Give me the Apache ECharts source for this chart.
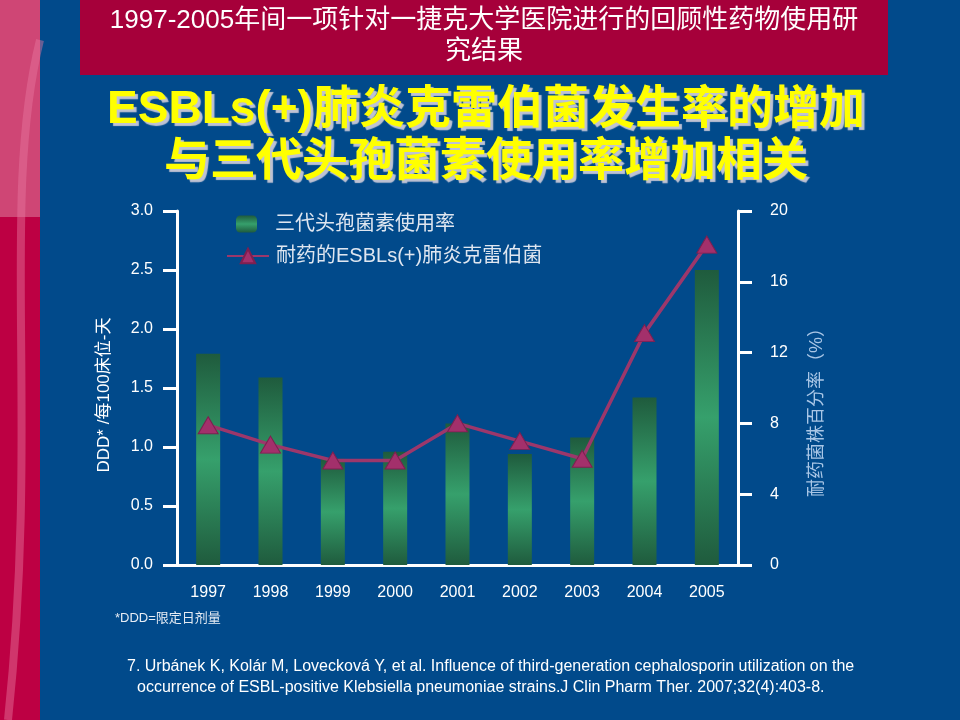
<!DOCTYPE html>
<html><head><meta charset="utf-8">
<script src="https://cdn.jsdelivr.net/npm/echarts/dist/echarts.min.js"></script>
<style>html,body{margin:0;padding:0;background:#014a8b}#c{width:960px;height:720px}</style>
</head><body><div id="c"></div>
<script>
const years = ['1997','1998','1999','2000','2001','2002','2003','2004','2005'];
const dddValues = [1.79, 1.59, 0.90, 0.96, 1.20, 0.94, 1.08, 1.42, 2.50];
const esblPercent = [7.9, 6.8, 5.9, 5.9, 8.0, 7.0, 6.0, 13.1, 18.1];
const barName = '三代头孢菌素使用率';
const lineName = '耐药的ESBLs(+)肺炎克雷伯菌';
const headerLines = ['1997-2005年间一项针对一捷克大学医院进行的回顾性药物使用研', '究结果'];
const titleLines = ['ESBLs(+)肺炎克雷伯菌发生率的增加', '与三代头孢菌素使用率增加相关'];
const leftAxisName = 'DDD* /每100床位-天';
const rightAxisName = '耐药菌株百分率（%）';
const footnote = '*DDD=限定日剂量';
const refLines = ['7. Urbánek K, Kolár M, Lovecková Y, et al. Influence of third-generation cephalosporin utilization on the',
                  'occurrence of ESBL-positive Klebsiella pneumoniae strains.J Clin Pharm Ther. 2007;32(4):403-8.'];

const chart = echarts.init(document.getElementById('c'));
const FONT = 'Liberation Sans, Noto Sans CJK SC';
const barGrad = {type:'linear', x:0, y:0, x2:0, y2:1, colorStops:[
  {offset:0,color:'#1f5b3d'},{offset:0.5,color:'#36a06c'},{offset:1,color:'#1f5b3d'}]};
const titleStyle = {fill:'#ffff00', fontSize:46, fontWeight:'bold', fontFamily:FONT,
  textAlign:'center', textVerticalAlign:'middle', textShadowColor:'rgba(200,200,215,0.95)',
  textShadowOffsetX:3, textShadowOffsetY:3, textShadowBlur:1};
chart.setOption({
  backgroundColor:'#014a8b',
  textStyle:{fontFamily:FONT},
  graphic:[
    {type:'rect', shape:{x:0,y:0,width:40,height:720}, style:{fill:'#bd0043'}, z:-10},
    {type:'rect', shape:{x:0,y:0,width:40,height:217}, style:{fill:'#cf4675'}, z:-9},
    {type:'bezierCurve', shape:{x1:40,y1:40,cpx1:0,cpy1:200,cpx2:40,cpy2:420,x2:8,y2:720}, style:{stroke:'rgba(230,120,160,0.45)', lineWidth:8, fill:null}, z:-8},
    {type:'rect', shape:{x:80,y:0,width:808,height:75}, style:{fill:'#a6003a'}, z:-5},
    {type:'text', x:484, y:21, style:{text:headerLines[0], fill:'#ffffff', fontSize:26, fontFamily:FONT, textAlign:'center', textVerticalAlign:'middle'}},
    {type:'text', x:484, y:52, style:{text:headerLines[1], fill:'#ffffff', fontSize:26, fontFamily:FONT, textAlign:'center', textVerticalAlign:'middle'}},
    {type:'text', x:486, y:110, style:Object.assign({text:titleLines[0]}, titleStyle)},
    {type:'text', x:486, y:162, style:Object.assign({text:titleLines[1]}, titleStyle)},
    {type:'text', x:115, y:618, style:{text:footnote, fill:'#e6ecf4', fontSize:13, fontFamily:FONT, textVerticalAlign:'middle'}},
    {type:'text', x:127, y:667, style:{text:refLines[0], fill:'#ffffff', fontSize:16, fontFamily:FONT, textVerticalAlign:'middle'}},
    {type:'text', x:137, y:688, style:{text:refLines[1], fill:'#ffffff', fontSize:16, fontFamily:FONT, textVerticalAlign:'middle'}}
  ],
  legend:[
    {data:[barName], left:236, top:214, padding:0, orient:'vertical', itemWidth:21, itemHeight:17,
     textStyle:{color:'#dfe6f0', fontSize:20, padding:[0,0,0,13]}},
    {data:[lineName], left:226, top:246, padding:0, orient:'vertical', itemWidth:42, itemHeight:18,
     textStyle:{color:'#dfe6f0', fontSize:20, padding:[0,0,0,2]}}
  ],
  grid:{left:177, right:222, top:211, bottom:155},
  xAxis:{type:'category', data:years,
    axisLine:{lineStyle:{color:'#ffffff', width:3}}, axisTick:{show:false},
    axisLabel:{color:'#ffffff', fontSize:16, margin:20}},
  yAxis:[
    {type:'value', min:0, max:3, interval:0.5, position:'left',
     name:leftAxisName, nameLocation:'middle', nameRotate:90, nameGap:64,
     nameTextStyle:{color:'#ffffff', fontSize:17, padding:[0,14,0,0]},
     axisLine:{show:true, lineStyle:{color:'#ffffff', width:3}},
     axisTick:{show:true, length:14, lineStyle:{color:'#ffffff', width:3}},
     axisLabel:{color:'#ffffff', fontSize:16, margin:24, formatter:v=>v.toFixed(1)},
     splitLine:{show:false}},
    {type:'value', min:0, max:20, interval:4, position:'right',
     name:rightAxisName, nameLocation:'middle', nameRotate:90, nameGap:70,
     nameTextStyle:{color:'#a9c6e6', fontSize:18, padding:[0,40,0,0]},
     axisLine:{show:true, lineStyle:{color:'#ffffff', width:3}},
     axisTick:{show:true, length:14, lineStyle:{color:'#ffffff', width:3}},
     axisLabel:{color:'#ffffff', fontSize:16, margin:32},
     splitLine:{show:false}}
  ],
  series:[
    {name:barName, type:'bar', data:dddValues, barWidth:24, yAxisIndex:0,
     itemStyle:{color:barGrad}},
    {name:lineName, type:'line', data:esblPercent, yAxisIndex:1,
     symbol:'triangle', symbolSize:[20,17],
     lineStyle:{color:'#9c376b', width:3.5},
     itemStyle:{color:'#a3306b', borderColor:'#7e1f50', borderWidth:1}}
  ]
});
</script></body></html>
